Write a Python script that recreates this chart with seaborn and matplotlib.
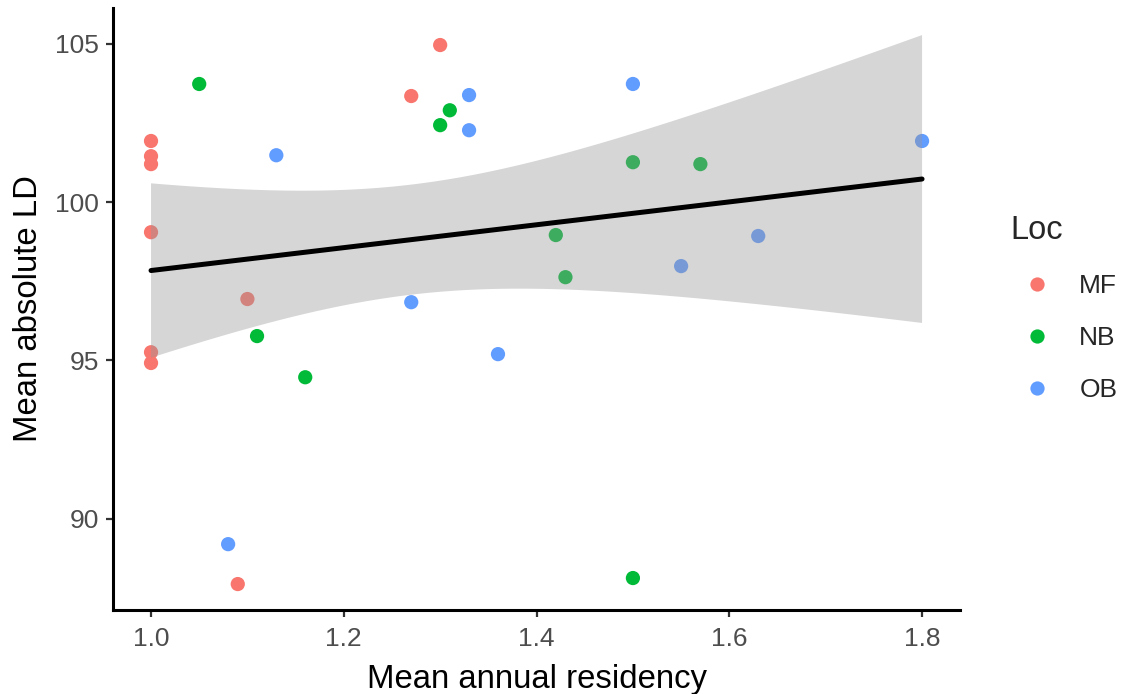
import matplotlib
matplotlib.use("Agg")
import matplotlib.pyplot as plt
import seaborn as sns
import numpy as np
import pandas as pd

# Residency vs. mean absolute LD, by location
mf_residency = [1.00, 1.00, 1.00, 1.00, 1.10, 1.00, 1.00, 1.09, 1.27, 1.30]
mf_ld = [101.93, 101.45, 101.20, 99.05, 96.94, 95.26, 94.92, 87.94, 103.35, 104.96]

nb_residency = [1.05, 1.11, 1.16, 1.30, 1.31, 1.42, 1.43, 1.50, 1.57, 1.50]
nb_ld = [103.73, 95.77, 94.47, 102.43, 102.90, 98.96, 97.63, 101.26, 101.20, 88.13]

ob_residency = [1.13, 1.08, 1.27, 1.33, 1.33, 1.36, 1.50, 1.55, 1.63, 1.80]
ob_ld = [101.48, 89.20, 96.84, 103.38, 102.27, 95.20, 103.73, 97.98, 98.93, 101.93]

locations = ["MF", "NB", "OB"]
palette = {"MF": "#F8766D", "NB": "#00BA38", "OB": "#619CFF"}

df = pd.DataFrame({
    "residency": mf_residency + nb_residency + ob_residency,
    "ld": mf_ld + nb_ld + ob_ld,
    "Loc": ["MF"] * len(mf_ld) + ["NB"] * len(nb_ld) + ["OB"] * len(ob_ld),
})

# Ordinary least squares fit with a 95% confidence band (t, df = n - 2)
x = df["residency"].to_numpy()
y = df["ld"].to_numpy()
n = len(x)
slope, intercept = np.polyfit(x, y, 1)
resid = y - (intercept + slope * x)
s_err = np.sqrt(np.sum(resid ** 2) / (n - 2))
t_crit = 2.0484  # t(0.975, 28)
grid = np.linspace(x.min(), x.max(), 80)
fit = intercept + slope * grid
se_fit = s_err * np.sqrt(1 / n + (grid - x.mean()) ** 2 / np.sum((x - x.mean()) ** 2))
band = pd.DataFrame({"residency": grid, "fit": fit,
                     "lo": fit - t_crit * se_fit, "hi": fit + t_crit * se_fit})

sns.set_style("white")
plt.rcParams["font.family"] = ["Liberation Sans", "DejaVu Sans"]

fig = plt.figure(figsize=(11.26, 6.94), dpi=100)
ax = fig.add_axes([0.1004, 0.121, 0.7522, 0.8675])

sns.scatterplot(data=df, x="residency", y="ld", hue="Loc", hue_order=locations,
                palette=palette, s=105, linewidth=0, alpha=1, ax=ax, zorder=1)

ax.fill_between(band["residency"], band["lo"], band["hi"],
                facecolor=(0.6, 0.6, 0.6), alpha=0.4, edgecolor="none", zorder=2)
sns.lineplot(data=band, x="residency", y="fit", color="black", linewidth=3.6,
             ax=ax, zorder=3, legend=False)

ax.set_xlim(0.9606, 1.8394)
ax.set_ylim(87.12, 106.13)
ax.set_xticks([1.0, 1.2, 1.4, 1.6, 1.8])
ax.set_xticklabels(["1.0", "1.2", "1.4", "1.6", "1.8"])
ax.set_yticks([90, 95, 100, 105])

for side in ["top", "right"]:
    ax.spines[side].set_visible(False)
for side in ["left", "bottom"]:
    ax.spines[side].set_color("black")
    ax.spines[side].set_linewidth(2.2)

ax.tick_params(axis="both", which="major", direction="out", length=5, width=1.6,
               color="#333333", labelcolor="#4D4D4D", labelsize=19,
               bottom=True, left=True)
ax.tick_params(axis="x", pad=7.5)
ax.tick_params(axis="y", pad=5)

ax.set_xlabel("Mean annual residency", fontsize=23.7, color="black", labelpad=9)
ax.set_ylabel("Mean absolute LD", fontsize=23.7, color="black", labelpad=8)

handles, labels = ax.get_legend_handles_labels()
if ax.legend_:
    ax.legend_.remove()
leg = fig.legend(handles, labels, title="Loc", loc="upper left",
                 bbox_to_anchor=(0.8765, 0.724), frameon=False, fontsize=19,
                 title_fontsize=23.5, handletextpad=0.6, labelspacing=1.06,
                 markerscale=1.0, alignment="left")

fig.savefig("out.png", dpi=100)
